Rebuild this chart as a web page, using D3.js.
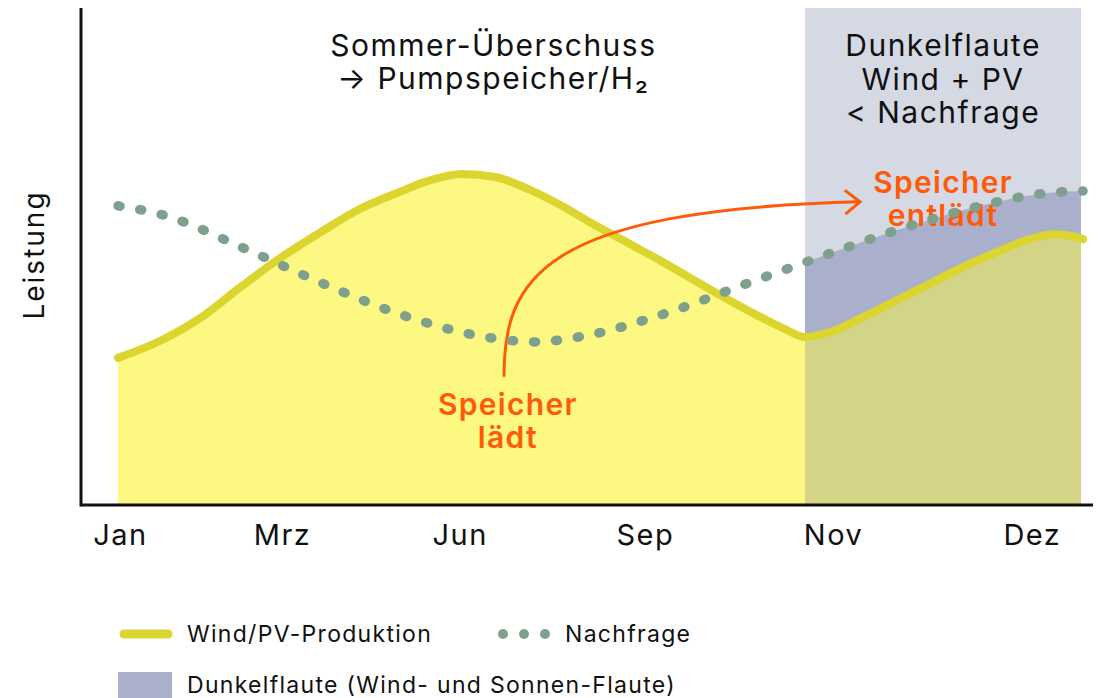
<!DOCTYPE html>
<html>
<head>
<meta charset="utf-8">
<script src="https://cdn.jsdelivr.net/npm/d3@7"></script>
<style>
  body { margin: 0; background: #fff; }
  svg { display: block; font-family: Inter, "Noto Sans", sans-serif; }
</style>
</head>
<body>
<div id="chart"></div>
<script>
// month ticks (positions along the year axis, 0..100)
var months = ['Jan', 'Mrz', 'Jun', 'Sep', 'Nov', 'Dez'];
var monthPos = [0.2, 17.0, 35.4, 54.6, 74.1, 94.7];

// Wind/PV production
var prodX = [0, 4.35, 8.5, 12.6, 16.8, 21.0, 25.1, 29.2, 32.3, 35.6, 39.1, 42.7, 45.8, 48.9, 52.3,
             55.9, 59.3, 62.7, 66.2, 69.1, 71.2, 73.8, 77.2, 80.7, 84.1, 87.6, 91.1, 94.5, 96.9, 99.0, 100];
var prodY = [29.6, 33.0, 37.6, 43.7, 49.7, 54.9, 59.6, 63.0, 65.3, 66.6, 66.0, 63.4, 60.4, 56.9, 53.3,
             49.5, 45.7, 41.9, 38.2, 35.4, 33.8, 34.8, 37.8, 41.2, 44.5, 47.9, 50.9, 53.5, 54.5, 54.1, 53.5];

// demand
var demandX = [0, 4.6, 13.0, 21.3, 29.8, 38.7, 43.2, 47.7, 56.5, 65.1, 73.6, 82.3, 91.1, 95.5, 100];
var demandY = [60.2, 58.4, 51.7, 44.5, 38.0, 33.6, 32.8, 33.8, 38.4, 44.5, 50.5, 56.3, 61.0, 62.6, 63.2];

// Dunkelflaute window
var flaute = [71.2, 99.8];

var width = 1104,
    height = 698,
    margin = {top: 8, right: 11, bottom: 193, left: 81};

var x = d3.scaleLinear().domain([0, 100]).range([118, 1083]);
var y = d3.scaleLinear().domain([0, 100]).range([height - margin.bottom, margin.top]);

var prod = prodX.map(function(d, i) { return {x: d, y: prodY[i]}; });
var demand = demandX.map(function(d, i) { return {x: d, y: demandY[i]}; });

var svg = d3.select('#chart').append('svg')
    .attr('width', width)
    .attr('height', height);

svg.append('clipPath').attr('id', 'flauteClip')
  .append('rect')
    .attr('x', x(flaute[0]))
    .attr('y', y(100))
    .attr('width', x(flaute[1]) - x(flaute[0]))
    .attr('height', y(0) - y(100));

var area = d3.area()
    .x(function(d) { return x(d.x); })
    .y0(y(0))
    .y1(function(d) { return y(d.y); })
    .curve(d3.curveMonotoneX);

var line = d3.line()
    .x(function(d) { return x(d.x); })
    .y(function(d) { return y(d.y); })
    .curve(d3.curveMonotoneX);

// window background
svg.append('rect')
    .attr('x', x(flaute[0]))
    .attr('y', y(100))
    .attr('width', x(flaute[1]) - x(flaute[0]))
    .attr('height', y(0) - y(100))
    .attr('fill', '#d5d9e4');

svg.append('path')
    .datum(demand)
    .attr('d', area)
    .attr('clip-path', 'url(#flauteClip)')
    .attr('fill', '#aab0cb');

svg.append('clipPath').attr('id', 'prodClip')
  .append('rect')
    .attr('x', x(0))
    .attr('y', 0)
    .attr('width', x(flaute[1]) - x(0))
    .attr('height', height);

svg.append('path')
    .datum(prod)
    .attr('d', area)
    .attr('clip-path', 'url(#prodClip)')
    .attr('fill', '#fdf881');

svg.append('path')
    .datum(prod)
    .attr('d', area)
    .attr('clip-path', 'url(#flauteClip)')
    .attr('fill', '#d4d486');

// axes
var xAxis = d3.axisBottom(x)
    .tickValues(monthPos)
    .tickFormat(function(d, i) { return months[i]; })
    .tickSize(0)
    .tickPadding(19);

var gx = svg.append('g')
    .attr('transform', 'translate(0,' + y(0) + ')')
    .call(xAxis);
gx.select('.domain').remove();
gx.selectAll('text')
    .attr('font-family', 'Inter, "Noto Sans", sans-serif')
    .attr('font-size', 29)
    .attr('letter-spacing', 1.5)
    .attr('fill', '#111');

svg.append('line')
    .attr('x1', margin.left).attr('x2', width - margin.right)
    .attr('y1', y(0)).attr('y2', y(0))
    .attr('stroke', '#111').attr('stroke-width', 3);

svg.append('line')
    .attr('x1', margin.left).attr('x2', margin.left)
    .attr('y1', y(100)).attr('y2', y(0) + 1.5)
    .attr('stroke', '#111').attr('stroke-width', 3);

svg.append('text')
    .attr('transform', 'translate(44,' + 255 + ') rotate(-90)')
    .attr('text-anchor', 'middle')
    .attr('font-size', 28)
    .attr('letter-spacing', 2)
    .attr('fill', '#111')
    .text('Leistung');

// production line
svg.append('path')
    .datum(prod)
    .attr('d', line)
    .attr('fill', 'none')
    .attr('stroke', '#dcd530')
    .attr('stroke-width', 8)
    .attr('stroke-linecap', 'round');

// storage arrow
var orange = '#ff5a0a';
svg.append('marker')
    .attr('id', 'chev')
    .attr('markerUnits', 'userSpaceOnUse')
    .attr('markerWidth', 30).attr('markerHeight', 30)
    .attr('refX', 0).attr('refY', 0)
    .attr('viewBox', '-20 -15 24 30')
    .attr('orient', 'auto')
  .append('path')
    .attr('d', 'M-15,-12 L0,0 L-15,12')
    .attr('fill', 'none')
    .attr('stroke', orange)
    .attr('stroke-width', 3);

var arrowPts = [[40.0, 25.8], [40.0, 45.3], [43.7, 59.4], [76.9, 61.0]];
var p = arrowPts.map(function(d) { return [x(d[0]), y(d[1])]; });
svg.append('path')
    .attr('d', 'M' + p[0] + 'C' + p[1] + ' ' + p[2] + ' ' + p[3])
    .attr('fill', 'none')
    .attr('stroke', orange)
    .attr('stroke-width', 3)
    .attr('marker-end', 'url(#chev)');

// annotations
function label(lines, cx, cy, opts) {
    var t = svg.append('text')
        .attr('text-anchor', 'middle')
        .attr('font-size', opts.size)
        .attr('font-weight', opts.weight || 400)
        .attr('letter-spacing', opts.ls)
        .attr('fill', opts.color || '#111');
    lines.forEach(function(s, i) {
        t.append('tspan')
            .attr('x', x(cx))
            .attr('y', y(cy) + i * opts.lh)
            .text(s);
    });
}

label(['Sommer-Überschuss', '→ Pumpspeicher/H₂'], 38.9, 90.3, {size: 30, lh: 33, ls: 1.5});
label(['Dunkelflaute', 'Wind + PV', '< Nachfrage'], 85.5, 90.3, {size: 30, lh: 33.5, ls: 1.5});
label(['Speicher', 'lädt'], 40.4, 18.1, {size: 30, lh: 33, weight: 600, ls: 1.3, color: orange});
label(['Speicher', 'entlädt'], 85.5, 62.8, {size: 30, lh: 33, weight: 600, ls: 1.3, color: orange});

// demand dots
svg.append('path')
    .datum(demand)
    .attr('d', line)
    .attr('fill', 'none')
    .attr('stroke', '#7fa08d')
    .attr('stroke-width', 9.5)
    .attr('stroke-linecap', 'round')
    .attr('stroke-dasharray', '2 20');

// legend
var legend = svg.append('g').attr('font-size', 23).attr('letter-spacing', 1.3).attr('fill', '#111');

legend.append('line')
    .attr('x1', 124).attr('x2', 168)
    .attr('y1', 634).attr('y2', 634)
    .attr('stroke', '#dcd530').attr('stroke-width', 9)
    .attr('stroke-linecap', 'round');
legend.append('text').attr('x', 187).attr('y', 642).text('Wind/PV-Produktion');

legend.selectAll('circle.dot')
    .data([503, 524, 545])
    .enter().append('circle')
    .attr('class', 'dot')
    .attr('cx', function(d) { return d; })
    .attr('cy', 634)
    .attr('r', 5)
    .attr('fill', '#7fa08d');
legend.append('text').attr('x', 565).attr('y', 642).text('Nachfrage');

legend.append('rect')
    .attr('x', 118).attr('y', 672)
    .attr('width', 54).attr('height', 30)
    .attr('fill', '#aab0cb');
legend.append('text').attr('x', 187).attr('y', 693).text('Dunkelflaute (Wind- und Sonnen-Flaute)');
</script>
</body>
</html>
